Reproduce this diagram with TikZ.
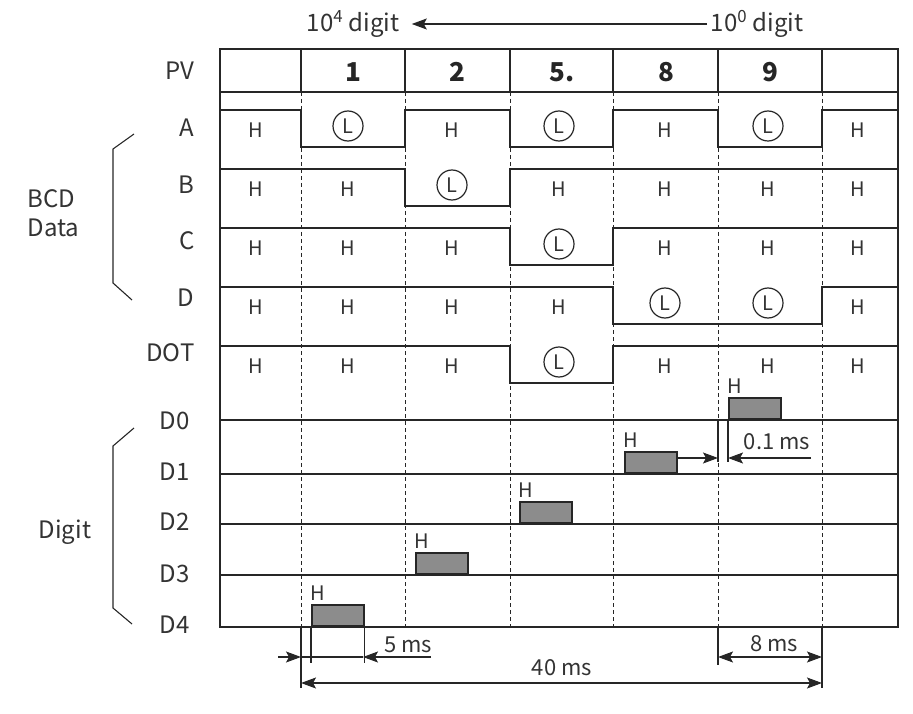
\documentclass[tikz,border=0pt]{standalone}
\usepackage{fontspec}
\setmainfont{Noto Sans CJK JP}
\usetikzlibrary{arrows.meta}

\begin{document}
\begin{tikzpicture}[
		x=1pt, y=-1pt,
		line join=miter,
		frame/.style={line width=1.8pt, draw=black!85},
		wave/.style={line width=1.8pt, draw=black!85},
		grid/.style={dash pattern=on 4pt off 3pt, line width=1pt, draw=black!85},
		lab/.style={font=\fontsize{24}{29}\selectfont, text=black!80},
		num/.style={font=\fontsize{26}{29}\selectfont\bfseries, text=black!85},
		hlab/.style={font=\fontsize{20}{22}\selectfont, text=black!80, inner sep=0pt},
		dlab/.style={font=\fontsize{22}{26}\selectfont, text=black!80, inner sep=0pt},
		lcirc/.style={circle, draw=black!85, line width=1.2pt, minimum size=30pt, inner sep=0pt, font=\fontsize{20}{22}\selectfont, text=black!80},
		pulse/.style={fill=black!45, draw=black!85, line width=1.8pt, minimum width=52pt, minimum height=21pt, inner sep=0pt, anchor=south west},
		dim/.style={line width=1.1pt, draw=black!85},
		tip/.style={-{Stealth[length=15pt,width=11pt,inset=3pt]}},
		tips/.style={{Stealth[length=15pt,width=11pt,inset=3pt]}-{Stealth[length=15pt,width=11pt,inset=3pt]}}
	]
	\useasboundingbox (0,0) rectangle (913,714);
	\node[lab] (hi) at (353,24) {10\textsuperscript{4} digit};
	\node[lab] (lo) at (757,24) {10\textsuperscript{0} digit};
	\draw[dim, tip] (lo.west) -- ([xshift=9pt]hi.east);
	\draw[frame] (220,49) rectangle (898,627);
	\draw[frame] (220,92) -- (898,92);
	\foreach \x in {301,405,510,613,718,822} {
		\draw[frame] (\x,49) -- (\x,92);
		\draw[grid] (\x,92) -- (\x,627);
	}
	\node[lab, anchor=east] (pv) at (198,71) {PV};
	\foreach \x/\t [count=\i] in {353/1,457/2,562/5.,666/8,770/9}
		\node[num] (pv\i) at (\x,72) {\t};
	\foreach \y/\ly/\a/\b/\c/\d/\e/\f/\g/\n in {110/128/0/1/0/1/0/1/0/A, 169/185/0/0/1/0/0/0/0/B, 228/241/0/0/0/1/0/0/0/C, 287/298/0/0/0/0/1/1/0/D, 346/353/0/0/0/1/0/0/0/DOT} {
		\node[lab, anchor=east] (sig\n) at (198,\ly) {\n};
		\draw[wave] (220,\y+37*\a) -- (301,\y+37*\a) -- (301,\y+37*\b) -- (405,\y+37*\b) -- (405,\y+37*\c) -- (510,\y+37*\c) -- (510,\y+37*\d) -- (613,\y+37*\d) -- (613,\y+37*\e) -- (718,\y+37*\e) -- (718,\y+37*\f) -- (822,\y+37*\f) -- (822,\y+37*\g) -- (898,\y+37*\g);
		\foreach \cx/\bit [count=\i] in {256/\a,348/\b,452/\c,559/\d,665/\e,768/\f,858/\g} {
			\ifnum\bit=0
				\node[hlab] (\n-\i) at (\cx,\y+20) {H};
			\else
				\node[lcirc] (\n-\i) at (\cx,\y+16) {L};
			\fi
		}
	}
	\node[lab, align=left, anchor=west] (bcd) at (24,213) {BCD\\Data};
	\draw[dim] (134,134) -- (113,149) -- (113,283) -- (132,300);
	\foreach \y in {420,474,524,575}
		\draw[frame] (220,\y) -- (898,\y);
	\foreach \y/\n in {421/0,472/1,522/2,574/3,625/4}
		\node[lab, anchor=east] (D\n) at (193,\y) {D\n};
	\node[lab] (digit) at (65,532) {Digit};
	\draw[dim] (134,428) -- (113,446) -- (113,608) -- (132,624);
	\foreach \x/\y/\n in {311/627/4,415/575/3,519/524/2,624/474/1,728/420/0} {
		\node[pulse] (p\n) at (\x,\y) {};
		\node[hlab] (h\n) at (\x+7,\y-34) {H};
	}
	\coordinate (a1) at (718,458);
	\coordinate (a2) at (728,458);
	\coordinate (a3) at (811,458);
	\draw[dim] (718,420) -- (718,462);
	\draw[dim] (728,420) -- (728,462);
	\draw[dim, tip] (p1.east |- a1) -- (a1);
	\draw[dim, tip] (a3) -- (a2);
	\node[dlab] (t1) at (777,442) {0.1 ms};
	\draw[dim] (301,627) -- (301,688);
	\draw[dim] (p4.south west) -- ++(0,36);
	\draw[dim] (p4.south east) -- ++(0,36);
	\draw[dim] (718,627) -- (718,665);
	\draw[dim] (822,627) -- (822,688);
	\coordinate (b1) at (278,657);
	\coordinate (b2) at (301,657);
	\coordinate (b3) at (363,657);
	\coordinate (b4) at (431,657);
	\draw[dim, tip] (b1) -- (b2);
	\draw[dim] (b2) -- (b3);
	\draw[dim, tip] (b4) -- (b3);
	\node[dlab] (t5) at (408,645) {5 ms};
	\draw[dim, tips] (718,657) -- (822,657);
	\node[dlab] (t8) at (774,644) {8 ms};
	\draw[dim, tips] (301,683) -- (822,683);
	\node[dlab] (t40) at (562,668) {40 ms};
\end{tikzpicture}
\end{document}
